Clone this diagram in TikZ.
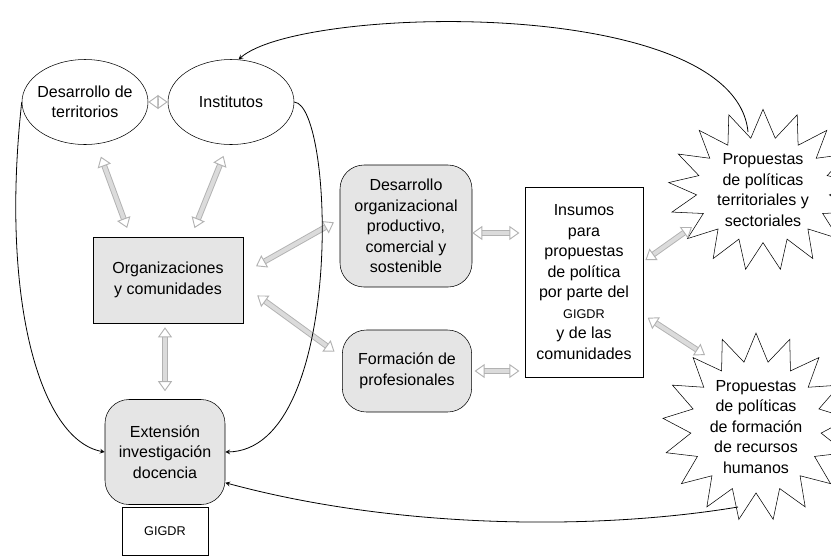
\documentclass[tikz,border=0pt]{standalone}
\usepackage{fontspec}
\setmainfont{Liberation Sans}
\usetikzlibrary{shapes.geometric,shapes.symbols,arrows.meta,calc}

\tikzset{
	every node/.style={font=\fontsize{12}{15.4}\selectfont, align=center},
	oval/.style={draw, ellipse, minimum width=94.5pt, minimum height=63.75pt, inner xsep=-5.5pt, inner ysep=1pt},
	graybox/.style={draw, fill=black!10},
	softbox/.style={draw, fill=black!10, rounded corners=18pt, inner sep=2pt},
	plainbox/.style={draw, fill=white},
	burst/.style={draw, fill=white, starburst, random starburst=0, starburst points=17, starburst point height=21pt, inner sep=0pt},
	garrow/.style={draw=gray!60, double=gray!28, double distance=3pt, line width=0.7pt, {Triangle[open,length=7.5pt,width=10.5pt]}-{Triangle[open,length=7.5pt,width=10.5pt]}},
	link/.style={-stealth, line width=0.6pt}
}

\begin{document}
\begin{tikzpicture}[x=0.75pt, y=-0.75pt]
		\useasboundingbox (0,0) rectangle (831,558);
		
		\node[oval] (terr) at (85,102) {Desarrollo de\\territorios};
		\node[oval] (inst) at (231,102) {Institutos};
		\node[graybox, minimum width=112.5pt, minimum height=64.5pt] (org) at (168,280) {Organizaciones\\y comunidades};
		\node[softbox, minimum width=90pt, minimum height=78.75pt] (ext) at (165,452) {Extensión\\investigación\\docencia};
		\node[plainbox, minimum width=64.5pt, minimum height=36pt, font=\fontsize{9.5}{11}\selectfont] (gig) at (165,531) {GIGDR};
		
		\node[softbox, minimum width=99pt, minimum height=91.5pt] (dorg) at (406,226) {Desarrollo\\organizacional\\productivo,\\comercial y\\sostenible};
		\node[softbox, minimum width=97pt, minimum height=61.5pt] (form) at (407,371) {Formación de\\profesionales};
		\node[plainbox, minimum width=88.5pt, minimum height=142.5pt] (ins) at (584,282) {Insumos\\para\\propuestas\\de política\\por parte del\\{\fontsize{9.5}{11}\selectfont GIGDR}\\y de las\\comunidades};
		
		\node[burst, minimum width=142pt, minimum height=121pt] (star1) at (763,190) {Propuestas\\de políticas\\territoriales y\\sectoriales};
		\node[burst, minimum width=126pt, minimum height=122pt] (star2) at (756,427) {Propuestas\\de políticas\\de formación\\de recursos\\humanos};
		
		% gray two-way links
		\draw[garrow] (terr.east) -- (inst.west);
		\draw[garrow, shorten <=10pt, shorten >=7pt] (terr.-75) -- (org.131);
		\draw[garrow, shorten <=9pt, shorten >=7pt] (inst.-94) -- (org.62);
		\draw[garrow, shorten <=11pt, shorten >=5pt] (org.5) -- (dorg.174);
		\draw[garrow, shorten <=13pt, shorten >=7pt] (org.-4) -- (form.168);
		\draw[garrow, shorten <=3pt, shorten >=6pt] (ext.north |- org.south) -- (ext.north);
		\draw[garrow, shorten >=4pt] (dorg.-6) -- (dorg.-6 -| ins.west);
		\draw[garrow, shorten <=2pt, shorten >=4pt] (form.east) -- (form.east -| ins.west);
		\draw[garrow, shorten <=2pt] (ins.19) -- ($(star1)+(-71,37)$);
		\draw[garrow, shorten <=4pt] (ins.-29) -- ($(star2)+(-51,-72)$);
		
		% feedback curves
		\draw[link] ($(star1)+(-15,-58)$) .. controls (735,-5) and (300,5) .. (inst.80);
		\draw[link] (terr.west) .. controls (0,300) and (40,440) .. (ext.west);
		\draw[link] (inst.east) .. controls (335,105) and (345,450) .. (ext.east);
		\draw[link] ($(star2)+(-18,80)$) .. controls (600,530) and (400,530) .. (ext.-27);
	\end{tikzpicture}
\end{document}
